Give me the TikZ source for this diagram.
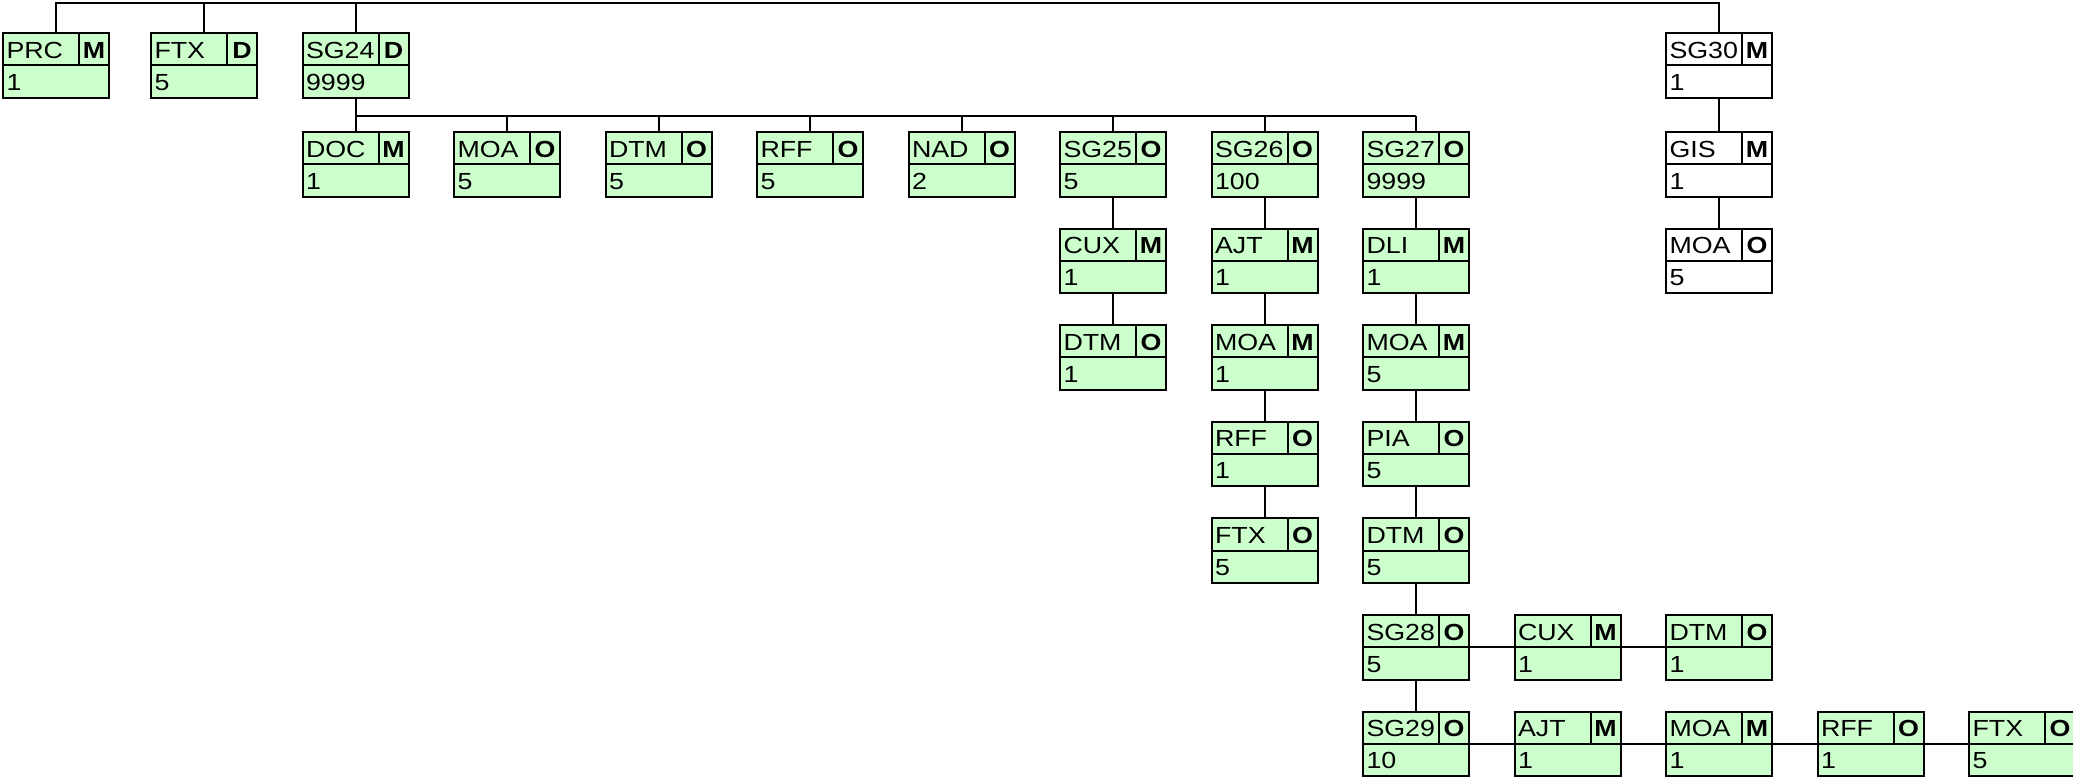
\documentclass[tikz,border=0pt]{standalone}
\usepackage{fontspec}
\newfontfamily\segfont[FakeStretch=1.15]{Liberation Sans}
\usetikzlibrary{calc}
\definecolor{seggreen}{RGB}{204,255,204}
\tikzset{
 segframe/.style={draw=black, line width=1pt, rectangle, inner sep=0pt, outer sep=0pt,
   minimum width=53pt, minimum height=32.25pt, anchor=north west},
 segtext/.style={inner sep=0pt, outer sep=0pt, font=\segfont\fontsize{11.65pt}{12pt}\selectfont},
 segflag/.style={inner sep=0pt, outer sep=0pt, font=\segfont\bfseries\fontsize{11.65pt}{12pt}\selectfont},
 conn/.style={draw=black, line width=1pt},
 segline/.style={draw=black, line width=1pt},
}
% #1 name, #2 x (px), #3 y (px), #4 label, #5 flag, #6 repeat, #7 fill
\newcommand\segat[7]{%
 \node[segframe, fill=#7] (#1) at (#2,#3) {};
 \draw[segline] (#1.west) -- (#1.east);
 \draw[segline] ($(#1.north west)+(76,0)$) -- ($(#1.west)+(76,0)$);
 \node[segtext, anchor=base west] (#1-l) at ($(#1.north west)+(3.5,25)$) {#4};
 \node[segflag, anchor=base] (#1-f) at ($(#1.north west)+(91,25)$) {#5};
 \node[segtext, anchor=base west] (#1-n) at ($(#1.north west)+(3.5,57)$) {#6};
}
% #2 column, #3 row
\newcommand\segbox[7]{%
 \pgfmathsetmacro\segX{302.5+151.5*(#2-2)}%
 \pgfmathsetmacro\segY{ifthenelse(#3==0,33,132+96.6*(#3-1))}%
 \segat{#1}{\segX}{\segY}{#4}{#5}{#6}{#7}%
}
\begin{document}
\begin{tikzpicture}[x=0.5pt,y=-0.5pt]
\useasboundingbox (0,0) rectangle (2073,777);
% row 0
\segat{PRC}{3}{33}{PRC}{M}{1}{seggreen}
\segbox{FTXa}{1}{0}{FTX}{D}{5}{seggreen}
\segbox{SGb}{2}{0}{SG24}{D}{9999}{seggreen}
\segbox{SGt}{11}{0}{SG30}{M}{1}{white}
% row 1
\segbox{DOC}{2}{1}{DOC}{M}{1}{seggreen}
\segbox{MOAa}{3}{1}{MOA}{O}{5}{seggreen}
\segbox{DTMa}{4}{1}{DTM}{O}{5}{seggreen}
\segbox{RFFa}{5}{1}{RFF}{O}{5}{seggreen}
\segbox{NAD}{6}{1}{NAD}{O}{2}{seggreen}
\segbox{SGc}{7}{1}{SG25}{O}{5}{seggreen}
\segbox{SGd}{8}{1}{SG26}{O}{100}{seggreen}
\segbox{SGe}{9}{1}{SG27}{O}{9999}{seggreen}
\segbox{GIS}{11}{1}{GIS}{M}{1}{white}
% row 2
\segbox{CUXa}{7}{2}{CUX}{M}{1}{seggreen}
\segbox{AJTa}{8}{2}{AJT}{M}{1}{seggreen}
\segbox{DLI}{9}{2}{DLI}{M}{1}{seggreen}
\segbox{MOAt}{11}{2}{MOA}{O}{5}{white}
% row 3
\segbox{DTMb}{7}{3}{DTM}{O}{1}{seggreen}
\segbox{MOAb}{8}{3}{MOA}{M}{1}{seggreen}
\segbox{MOAc}{9}{3}{MOA}{M}{5}{seggreen}
% row 4
\segbox{RFFb}{8}{4}{RFF}{O}{1}{seggreen}
\segbox{PIA}{9}{4}{PIA}{O}{5}{seggreen}
% row 5
\segbox{FTXb}{8}{5}{FTX}{O}{5}{seggreen}
\segbox{DTMc}{9}{5}{DTM}{O}{5}{seggreen}
% row 6
\segbox{SGf}{9}{6}{SG28}{O}{5}{seggreen}
\segbox{CUXb}{10}{6}{CUX}{M}{1}{seggreen}
\segbox{DTMd}{11}{6}{DTM}{O}{1}{seggreen}
% row 7
\segbox{SGg}{9}{7}{SG29}{O}{10}{seggreen}
\segbox{AJTb}{10}{7}{AJT}{M}{1}{seggreen}
\segbox{MOAd}{11}{7}{MOA}{M}{1}{seggreen}
\segbox{RFFc}{12}{7}{RFF}{O}{1}{seggreen}
\segbox{FTXc}{13}{7}{FTX}{O}{5}{seggreen}
% connectors
\coordinate (topbar) at (0,3);
\coordinate (barone) at (0,115.5);
\draw[conn] (PRC.north) -- (PRC.north |- topbar) -- (SGt.north |- topbar) -- (SGt.north);
\foreach \n in {FTXa,SGb} \draw[conn] (\n.north) -- (\n.north |- topbar);
\draw[conn] (SGb.south) -- (DOC.north);
\draw[conn] (DOC.north |- barone) -- (SGe.north |- barone);
\foreach \n in {MOAa,DTMa,RFFa,NAD,SGc,SGd,SGe} \draw[conn] (\n.north) -- (\n.north |- barone);
\draw[conn] (SGt.south) -- (GIS.north);
\draw[conn] (GIS.south) -- (MOAt.north);
\draw[conn] (SGc.south) -- (CUXa.north);
\draw[conn] (CUXa.south) -- (DTMb.north);
\draw[conn] (SGd.south) -- (AJTa.north);
\draw[conn] (AJTa.south) -- (MOAb.north);
\draw[conn] (MOAb.south) -- (RFFb.north);
\draw[conn] (RFFb.south) -- (FTXb.north);
\draw[conn] (SGe.south) -- (DLI.north);
\draw[conn] (DLI.south) -- (MOAc.north);
\draw[conn] (MOAc.south) -- (PIA.north);
\draw[conn] (PIA.south) -- (DTMc.north);
\draw[conn] (DTMc.south) -- (SGf.north);
\draw[conn] (SGf.south) -- (SGg.north);
\draw[conn] (SGf.east) -- (CUXb.west);
\draw[conn] (CUXb.east) -- (DTMd.west);
\draw[conn] (SGg.east) -- (AJTb.west);
\draw[conn] (AJTb.east) -- (MOAd.west);
\draw[conn] (MOAd.east) -- (RFFc.west);
\draw[conn] (RFFc.east) -- (FTXc.west);
\end{tikzpicture}
\end{document}
